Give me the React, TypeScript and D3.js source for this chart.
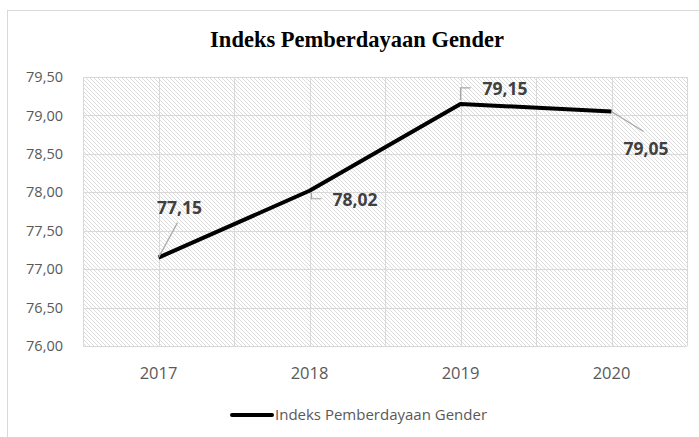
import React from "react";
import * as d3 from "d3";

const years = ["2017", "2018", "2019", "2020"];
const values = [77.15, 78.02, 79.15, 79.05];
const yTicks = [76, 76.5, 77, 77.5, 78, 78.5, 79, 79.5];
const title = "Indeks Pemberdayaan Gender";
const seriesName = "Indeks Pemberdayaan Gender";

const W = 699;
const H = 437;
const left = 83;
const right = 687;
const top = 77;
const bottom = 346;

const fmt = (v: number) => v.toFixed(2).replace(".", ",");

// label placement styles (offsets from the point)
const labelStyles = [
  { leader: (x: number, y: number) => `M${x},${y} L${x + 19},${y - 35}`, lx: 21, ly: -50, anchor: "middle" },
  { leader: (x: number, y: number) => `M${x + 2},${y + 2} L${x + 2},${y + 8} L${x + 12},${y + 8}`, lx: 23, ly: 9, anchor: "start" },
  { leader: (x: number, y: number) => `M${x},${y - 4} L${x},${y - 16} L${x + 10},${y - 16}`, lx: 22, ly: -15, anchor: "start" },
  { leader: (x: number, y: number) => `M${x},${y} L${x + 32},${y + 20}`, lx: 12, ly: 37, anchor: "start" },
];

export default function App() {
  const x = d3.scalePoint<string>().domain(years).range([left, right]).padding(0.5);
  const y = d3.scaleLinear().domain([76, 79.5]).range([bottom, top]);
  const step = x.step();
  const vGrid = d3.range(0, years.length * 2 + 1).map((k) => left + (k * step) / 2);
  const line = d3
    .line<number>()
    .x((_, i) => x(years[i]) as number)
    .y((d) => y(d));

  const tickFont = "'Open Sans', sans-serif";

  return (
    <svg
      width={W}
      height={H}
      style={{ position: "absolute", left: 0, top: 0, background: "#fff" }}
    >
      <defs>
        <pattern id="hatch" width="4" height="4" patternUnits="userSpaceOnUse">
          <rect width="4" height="4" fill="#ffffff" />
          <path d="M0,0 L4,4 M-1,3 L1,5 M3,-1 L5,1" stroke="#dcdcdc" strokeWidth="1" />
        </pattern>
      </defs>
      <rect x={7.5} y={10.5} width={720} height={460} fill="#fff" stroke="#d9d9d9" strokeWidth={1} />
      <text
        x={357}
        y={47}
        textAnchor="middle"
        fontFamily="'Liberation Serif', 'Times New Roman', serif"
        fontWeight="bold"
        fontSize={22.5}
        fill="#000"
      >
        {title}
      </text>
      <rect x={left} y={top} width={right - left} height={bottom - top} fill="url(#hatch)" />
      {yTicks.map((t) => (
        <line key={"h" + t} x1={left} x2={right} y1={Math.round(y(t)) + 0.5} y2={Math.round(y(t)) + 0.5} stroke="#d9d9d9" strokeWidth={1} />
      ))}
      {vGrid.map((gx, i) => (
        <line key={"v" + i} x1={Math.round(gx) + 0.5} x2={Math.round(gx) + 0.5} y1={top} y2={bottom} stroke="#d9d9d9" strokeWidth={1} />
      ))}
      {yTicks.map((t) => (
        <text key={"yt" + t} x={63} y={y(t)} dy="0.35em" textAnchor="end" fontFamily={tickFont} fontSize={14.5} fill="#595959">
          {fmt(t)}
        </text>
      ))}
      {years.map((yr) => (
        <text key={"xt" + yr} x={x(yr)} y={373} dy="0.35em" textAnchor="middle" fontFamily={tickFont} fontSize={16.5} fill="#595959">
          {yr}
        </text>
      ))}
      <path d={line(values) || ""} fill="none" stroke="#000" strokeWidth={4} strokeLinejoin="round" />
      {values.map((v, i) => {
        const px = x(years[i]) as number;
        const py = y(v);
        const s = labelStyles[i];
        return (
          <g key={"lbl" + i}>
            <path d={s.leader(px, py)} fill="none" stroke="#a6a6a6" strokeWidth={1.2} />
            <text
              x={px + s.lx}
              y={py + s.ly}
              dy="0.35em"
              textAnchor={s.anchor as any}
              fontFamily={tickFont}
              fontWeight="bold"
              fontSize={17.5}
              fill="#404040"
            >
              {fmt(v)}
            </text>
          </g>
        );
      })}
      <line x1={232} x2={272} y1={415} y2={415} stroke="#000" strokeWidth={4} strokeLinecap="round" />
      <text x={275} y={415} dy="0.35em" fontFamily={tickFont} fontSize={15} fill="#595959">
        {seriesName}
      </text>
    </svg>
  );
}
